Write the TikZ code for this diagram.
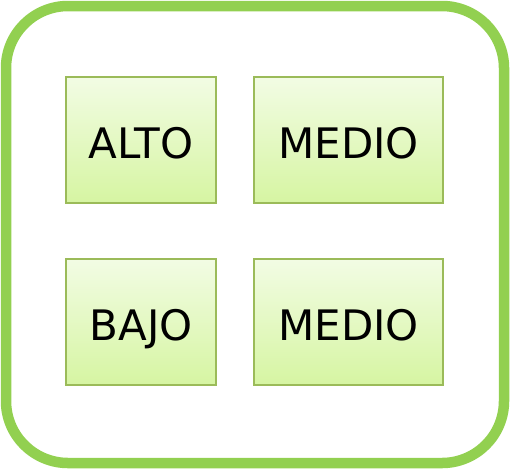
\documentclass[tikz,border=0pt]{standalone}
\usepackage{fontspec}
\setmainfont{DejaVu Sans}
\usetikzlibrary{positioning}
\definecolor{frame}{RGB}{146,208,80}
\definecolor{boxline}{RGB}{155,187,89}
\definecolor{boxtop}{RGB}{242,252,228}
\definecolor{boxbot}{RGB}{214,245,162}

\begin{document}
\begin{tikzpicture}[x=1pt,y=-1pt, lvl/.style={draw=boxline,line width=1.2pt,
		top color=boxtop,bottom color=boxbot,minimum height=126pt,
		inner sep=0pt,text height=36pt,text depth=0pt,
		font=\fontsize{42}{42}\selectfont}]
	\useasboundingbox (0,0) rectangle (510,469);
	\draw[line width=10.5pt,draw=frame,rounded corners=62pt] (6,6) rectangle (504,463);
	\node[lvl,minimum width=150pt] (alto) at (141,140) {ALTO};
	\node[lvl,minimum width=189pt] (medioa) at (348.5,140) {MEDIO};
	\node[lvl,minimum width=150pt] (bajo) at (141,322) {BAJO};
	\node[lvl,minimum width=189pt] (mediob) at (348.5,322) {MEDIO};
\end{tikzpicture}
\end{document}
